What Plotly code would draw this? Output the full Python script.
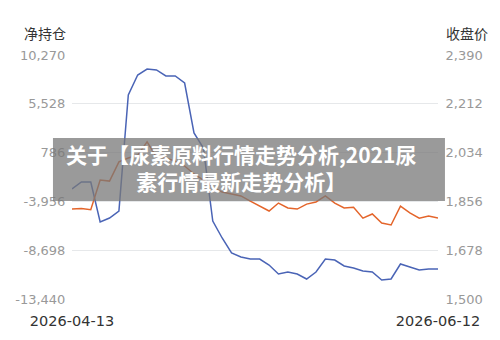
import plotly.graph_objects as go

dates = [
    "2026-04-13", "2026-04-14", "2026-04-15", "2026-04-16", "2026-04-17",
    "2026-04-20", "2026-04-21", "2026-04-22", "2026-04-23", "2026-04-24",
    "2026-04-27", "2026-04-28", "2026-04-29", "2026-04-30",
    "2026-05-07", "2026-05-08",
    "2026-05-11", "2026-05-12", "2026-05-13", "2026-05-14", "2026-05-15",
    "2026-05-18", "2026-05-19", "2026-05-20", "2026-05-21", "2026-05-22",
    "2026-05-25", "2026-05-26", "2026-05-27", "2026-05-28", "2026-05-29",
    "2026-06-01", "2026-06-02", "2026-06-03", "2026-06-04", "2026-06-05",
    "2026-06-08", "2026-06-09", "2026-06-11", "2026-06-12",
]

net_position = [
    -2751, -2071, -2071, -5957, -5569, -4889, 6383, 8327, 8910, 8813,
    8229, 8229, 7549, 2691, 1233, -5860, -7512, -8970, -9358, -9553,
    -9553, -10136, -11010, -10816, -11010, -11496, -10816, -9553, -9650, -10233,
    -10427, -10719, -10816, -11593, -11496, -10039, -10330, -10622, -10525, -10525,
]

close_price = [
    1828, 1830, 1826, 1934, 1930, 2000, 2014, 2025, 2073, 2018,
    2014, 2003, 1985, 1956, 1934, 1908, 1890, 1883, 1876, 1857,
    1839, 1821, 1850, 1832, 1828, 1846, 1854, 1876, 1850, 1832,
    1835, 1795, 1810, 1777, 1770, 1839, 1814, 1795, 1803, 1795,
]

left_ticks = [-13440, -8698, -3956, 786, 5528, 10270]
left_labels = ["-13,440", "-8,698", "-3,956", "786", "5,528", "10,270"]
right_ticks = [1500, 1678, 1856, 2034, 2212, 2390]
right_labels = ["1,500", "1,678", "1,856", "2,034", "2,212", "2,390"]

title_text = "关于【尿素原料行情走势分析,2021尿<br>素行情最新走势分析】"

fig = go.Figure()
fig.add_trace(go.Scatter(
    x=dates, y=net_position, mode="lines", name="净持仓",
    line=dict(color="#4a64b6", width=1.5), yaxis="y",
))
fig.add_trace(go.Scatter(
    x=dates, y=close_price, mode="lines", name="收盘价",
    line=dict(color="#e4652b", width=1.5), yaxis="y2",
))

tick_font = dict(family="DejaVu Sans, sans-serif", size=13, color="#999999")
clear = "rgba(0,0,0,0)"

fig.update_layout(
    width=500, height=340,
    margin=dict(l=72, r=62, t=55, b=41),
    paper_bgcolor="white", plot_bgcolor="white",
    showlegend=False,
    xaxis=dict(
        type="category", range=[0, len(dates) - 1],
        tickmode="array", tickvals=[dates[0], dates[-1]],
        ticktext=[dates[0], dates[-1]],
        showgrid=False, zeroline=False, showline=False,
        ticks="outside", ticklen=9, tickcolor=clear,
        tickfont=dict(family="DejaVu Sans, sans-serif", size=14.5, color="#333333"),
    ),
    yaxis=dict(
        range=[left_ticks[0], left_ticks[-1]],
        tickmode="array", tickvals=left_ticks, ticktext=left_labels,
        showgrid=True, gridcolor="#e6e8ea", gridwidth=1,
        zeroline=False, showline=False,
        ticks="outside", ticklen=3, tickcolor=clear,
        tickfont=tick_font,
    ),
    yaxis2=dict(
        range=[right_ticks[0], right_ticks[-1]],
        tickmode="array", tickvals=right_ticks, ticktext=right_labels,
        overlaying="y", side="right",
        showgrid=False, zeroline=False, showline=False,
        ticks="outside", ticklen=4, tickcolor=clear,
        tickfont=tick_font,
    ),
    annotations=[
        dict(text="净持仓", xref="paper", yref="paper", x=-0.073, y=1.09,
             xanchor="center", yanchor="middle", showarrow=False,
             font=dict(family="Noto Sans CJK SC", size=14, color="#333333")),
        dict(text="收盘价", xref="paper", yref="paper", x=1.079, y=1.09,
             xanchor="center", yanchor="middle", showarrow=False,
             font=dict(family="Noto Sans CJK SC", size=14, color="#333333")),
        dict(text=title_text, xref="paper", yref="paper", x=0.462, y=0.54,
             xanchor="center", yanchor="middle", showarrow=False, align="center",
             font=dict(family="Noto Sans CJK SC", size=21, color="white", weight="bold")),
    ],
    shapes=[
        dict(type="rect", xref="paper", yref="paper",
             x0=-0.052, x1=1.019, y0=0.4016, y1=0.66,
             fillcolor="rgba(120,120,120,0.75)", line=dict(width=0), layer="above"),
    ],
)

fig.write_html("out.html")
